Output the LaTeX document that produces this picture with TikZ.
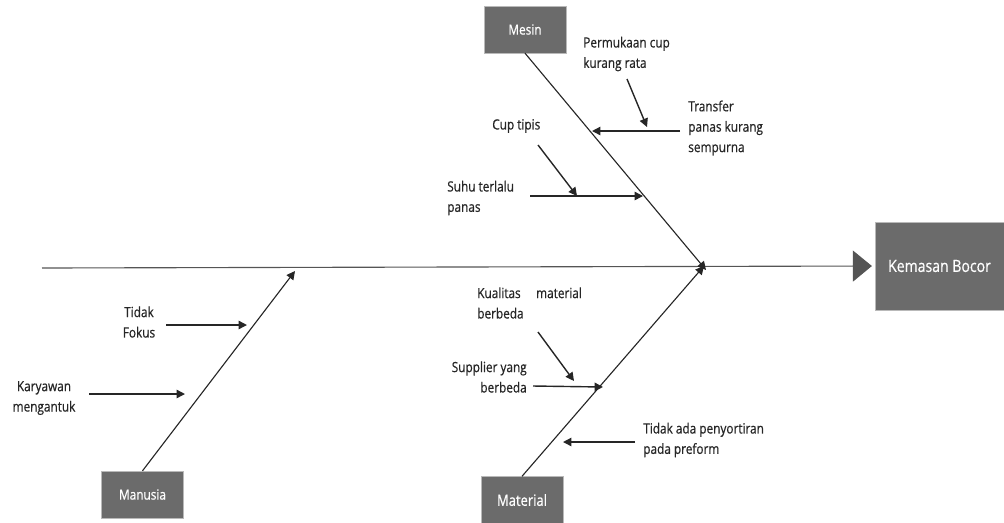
\documentclass[tikz,border=0pt]{standalone}
\usepackage{fontspec}
\setmainfont{Open Sans}[FakeStretch=0.84,FakeBold=0.6]
\usetikzlibrary{arrows.meta}
\definecolor{boxgray}{HTML}{6B6B6B}
\definecolor{inkgray}{HTML}{262626}
\definecolor{spinegray}{HTML}{555555}

\begin{document}
\begin{tikzpicture}[x=0.025cm,y=-0.025cm,font=\fontsize{10}{14.5}\selectfont]
\tikzset{
% Gray boxes for the effect and the cause categories
cat box/.style={rectangle,fill=boxgray,draw=gray!55,text=white,inner sep=0,minimum width=2.05cm,minimum height=1.17cm},
% Lines: the spine, the bones and the small cause arrows
spine/.style={draw=spinegray,line width=0.8pt,-{Triangle[length=13.5pt,width=22pt]},shorten >=2pt},
bone/.style={draw=inkgray,line width=0.8pt,-{Triangle[length=6pt,width=6pt]}},
cause/.style={draw=inkgray,line width=1pt,-{Triangle[length=6pt,width=6pt]}},
cause text/.style={text=inkgray,inner sep=0}
}
\useasboundingbox (0,0) rectangle (1004,522);

% Effect and categories
\node(kemasan)[cat box,minimum width=3.225cm,minimum height=2.2cm,font=\fontsize{11.9}{14}\selectfont] at (939.5,266) {Kemasan Bocor};
\node(mesin)[cat box] at (525,29.5) {Mesin};
\node(manusia)[cat box] at (142.5,494.5) {Manusia};
\node(material)[cat box,font=\fontsize{11}{14}\selectfont] at (522,500) {Material};

% Spine and bones
\coordinate (tail) at (42,268);
\coordinate (hmesin) at (706,270);
\coordinate (hmanusia) at (295,271);
\coordinate (hmaterial) at (704,266);
\draw[spine] (tail) -- (kemasan.west);
\draw[bone] (mesin.south) -- (hmesin);
\draw[bone] (manusia.north) -- (hmanusia);
\draw[bone] (material.north) -- (hmaterial);

% Causes: Mesin
\node(permukaan)[cause text,anchor=west,align=left] at (583,54) {Permukaan cup\\kurang rata};
\node(transfer)[cause text,anchor=west,align=left] at (688,128) {Transfer\\panas kurang\\sempurna};
\node(cuptipis)[cause text,anchor=west] at (492,126) {Cup tipis};
\node(suhu)[cause text,anchor=west,align=left] at (447,198) {Suhu terlalu\\panas};
\coordinate (p0) at (627,79);   \coordinate (p1) at (647,127);
\coordinate (t0) at (680,131);  \coordinate (t1) at (592,131);
\coordinate (c0) at (538,145);  \coordinate (c1) at (577,196);
\coordinate (s0) at (530,196);  \coordinate (s1) at (643,196);
\draw[cause] (p0) -- (p1);
\draw[cause] (t0) -- (t1);
\draw[cause] (c0) -- (c1);
\draw[cause] (s0) -- (s1);

% Causes: Manusia
\node(fokus)[cause text,align=center] at (139,322) {Tidak\\Fokus};
\node(karyawan)[cause text,align=center] at (44,398) {Karyawan\\mengantuk};
\coordinate (f0) at (166,325);  \coordinate (f1) at (247,325);
\coordinate (k0) at (89,394);   \coordinate (k1) at (185,394);
\draw[cause] (f0) -- (f1);
\draw[cause] (k0) -- (k1);

% Causes: Material
\node(kualitas)[cause text,anchor=west,align=left] at (477,303) {Kualitas\hspace{11pt}material\\berbeda};
\node(supplier)[cause text,anchor=east,align=right] at (527,377) {Supplier yang\\berbeda};
\node(sortir)[cause text,anchor=west,align=left] at (643,440) {Tidak ada penyortiran\\pada preform};
\coordinate (q0) at (538,332);  \coordinate (q1) at (574,381);
\coordinate (u0) at (533,386);  \coordinate (u1) at (603,387);
\coordinate (o0) at (635,442);  \coordinate (o1) at (563,442);
\draw[cause] (q0) -- (q1);
\draw[cause] (u0) -- (u1);
\draw[cause] (o0) -- (o1);
\end{tikzpicture}
\end{document}
